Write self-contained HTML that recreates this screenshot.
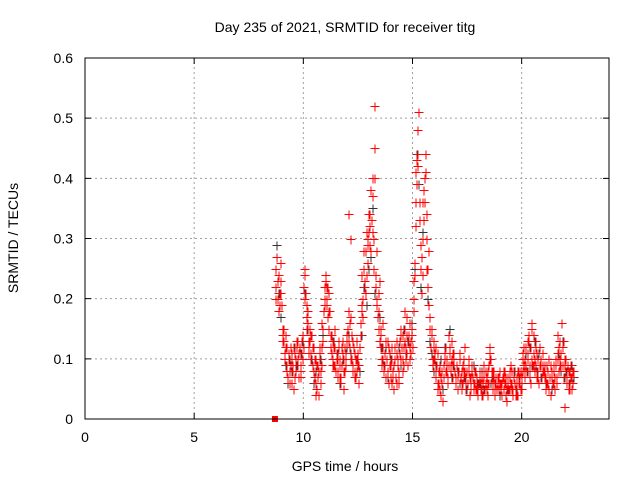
<!DOCTYPE html>
<html><head><meta charset="utf-8"><style>
body{margin:0;background:#fff}
svg{display:block;font-family:"Liberation Sans",sans-serif}
</style></head><body>
<svg id="chart" width="640" height="480" viewBox="0 0 640 480">
<rect x="0" y="0" width="640" height="480" fill="#fff"/>
<text x="345" y="32" font-size="14" text-anchor="middle">Day 235 of 2021, SRMTID for receiver titg</text>
<text x="345" y="471" font-size="14" text-anchor="middle">GPS time / hours</text>
<text transform="translate(18,238) rotate(-90)" font-size="14" text-anchor="middle">SRMTID / TECUs</text>
<g id="grid"></g>
<g id="axes"></g>
<g id="black"></g>
<g id="red"></g>
<rect x="85" y="58" width="524" height="361" fill="none" stroke="#000" stroke-width="1"/>
</svg>
<script>
const xTicks=[0,5,10,15,20];
const yTicks=[0,0.1,0.2,0.3,0.4,0.5,0.6];
const yTickLabels=["0","0.1","0.2","0.3","0.4","0.5","0.6"];
const red1Start=8.70, red1Step=0.05;
const red1Values=[0.22,0.27,0.20,0.24,0.19,0.21,
0.15,0.13,0.11,0.14,0.09,0.07,0.10,0.08,0.12,0.06,0.09,0.11,0.08,0.13,0.10,0.07,0.12,0.09,0.11,0.14,
0.22,0.25,0.19,0.16,0.13,0.15,0.11,0.14,0.09,0.12,0.07,0.10,0.05,0.08,0.11,0.06,0.09,0.13,0.18,0.22,
0.24,0.20,0.17,0.21,0.14,0.11,0.13,0.09,0.12,0.08,0.10,0.07,0.13,0.09,0.06,0.11,0.08,0.12,0.10,0.14,
0.15,0.34,0.12,0.17,0.10,0.08,0.11,0.07,0.13,0.09,0.06,0.12,0.16,0.24,0.20,0.28,0.22,0.31,0.26,0.34,
0.29,0.38,0.33,0.40,0.25,0.52,0.22,0.19,0.15,0.23,0.12,0.09,0.16,0.08,0.11,0.07,0.10,0.13,0.06,0.09,
0.12,0.08,0.05,0.10,0.07,0.13,0.09,0.06,0.11,0.15,0.08,0.12,0.18,0.10,0.14,0.09,0.13,0.16,0.11,0.15,
0.20,0.26,0.36,0.43,0.48,0.51,0.33,0.25,0.21,0.30,0.38,0.44,0.34,0.22,0.28,0.17,0.12,0.15,0.09,0.13,
0.10,0.07,0.11,0.06,0.09,0.04,0.08,0.03,0.07,0.10,0.12,0.08,0.06,0.11,0.09,0.13,0.07,0.10,0.08,0.06,
0.09,0.05,0.08,0.11,0.06,0.09,0.07,0.12,0.05,0.08,0.06,0.10,0.04,0.07,0.09,0.06,0.08,0.05,0.07,0.04,
0.06,0.08,0.05,0.07,0.04,0.09,0.06,0.05,0.08,0.06,0.12,0.10,0.07,0.05,0.08,0.04,0.06,0.07,0.05,0.08,
0.06,0.04,0.07,0.05,0.08,0.06,0.03,0.07,0.05,0.09,0.06,0.04,0.08,0.06,0.05,0.07,0.04,0.08,0.06,0.05,
0.11,0.09,0.07,0.12,0.08,0.10,0.14,0.09,0.06,0.16,0.11,0.08,0.13,0.07,0.10,0.06,0.12,0.09,0.07,0.11,
0.08,0.05,0.09,0.06,0.10,0.07,0.04,0.08,0.06,0.09,0.05,0.07,0.11,0.08,0.13,0.09,0.16,0.12,0.07,0.02,
0.10,0.06,0.08,0.05,0.09,0.07,0.06,0.08];
const red2Start=8.725, red2Step=0.1;
const red2Values=[0.25,0.18,0.23,0.14,0.10,0.12,0.08,0.11,0.05,0.09,0.13,0.07,0.10,
0.20,0.17,0.12,0.14,0.08,0.04,0.09,0.12,0.16,0.19,
0.22,0.18,0.12,0.09,0.15,0.10,0.07,0.12,0.05,0.09,
0.18,0.30,0.13,0.08,0.10,0.06,0.18,0.25,0.21,0.30,
0.34,0.31,0.45,0.28,0.18,0.14,0.10,0.13,0.08,0.11,
0.06,0.09,0.11,0.07,0.14,0.10,0.13,0.17,0.12,0.14,
0.23,0.41,0.44,0.29,0.36,0.40,0.25,0.19,0.14,0.10,
0.12,0.05,0.08,0.06,0.11,0.09,0.14,0.08,0.11,0.07,
0.07,0.10,0.05,0.08,0.06,0.09,0.05,0.07,0.06,0.05,
0.07,0.05,0.08,0.06,0.04,0.11,0.08,0.06,0.05,0.07,
0.05,0.07,0.04,0.06,0.08,0.05,0.07,0.04,0.06,0.08,
0.10,0.08,0.13,0.07,0.15,0.09,0.12,0.07,0.10,0.08,
0.07,0.09,0.05,0.08,0.06,0.10,0.14,0.09,0.12,0.09,
0.07,0.05,0.09,0.06];
const red3Start=8.725, red3Step=0.05;
const red3Values=[0.20,0.23,0.18,0.21,0.26,0.19,
0.13,0.15,0.10,0.12,0.08,0.11,0.06,0.09,0.10,0.08,0.12,0.07,0.10,0.12,0.09,0.11,0.08,0.13,0.10,0.12,
0.24,0.21,0.15,0.18,0.11,0.13,0.10,0.12,0.08,0.10,0.06,0.09,0.07,0.04,0.10,0.08,0.12,0.15,0.20,0.23,
0.19,0.22,0.15,0.18,0.12,0.14,0.10,0.12,0.09,0.11,0.08,0.12,0.10,0.07,0.09,0.13,0.10,0.08,0.11,0.13,
0.13,0.16,0.10,0.14,0.09,0.12,0.07,0.10,0.08,0.11,0.09,0.14,0.19,0.17,0.25,0.23,0.28,0.24,0.29,0.31,
0.32,0.28,0.37,0.30,0.40,0.24,0.20,0.17,0.21,0.13,0.15,0.10,0.12,0.09,0.07,0.10,0.08,0.12,0.09,0.07,
0.10,0.07,0.09,0.12,0.06,0.10,0.08,0.13,0.10,0.12,0.14,0.09,0.15,0.12,0.11,0.14,0.10,0.13,0.15,0.12,
0.18,0.24,0.32,0.39,0.42,0.36,0.29,0.27,0.24,0.33,0.36,0.41,0.30,0.25,0.19,0.15,0.14,0.10,0.12,0.11,
0.08,0.09,0.06,0.08,0.05,0.07,0.06,0.09,0.11,0.08,0.10,0.07,0.09,0.12,0.08,0.10,0.09,0.11,0.07,0.09,
0.07,0.08,0.10,0.07,0.08,0.06,0.10,0.08,0.07,0.06,0.08,0.07,0.05,0.08,0.07,0.05,0.06,0.08,0.06,0.05,
0.07,0.06,0.04,0.06,0.07,0.05,0.08,0.07,0.06,0.09,0.10,0.08,0.06,0.07,0.05,0.07,0.05,0.06,0.07,0.06,
0.05,0.06,0.08,0.06,0.07,0.05,0.06,0.05,0.07,0.06,0.08,0.05,0.07,0.04,0.06,0.08,0.06,0.07,0.05,0.07,
0.08,0.12,0.10,0.09,0.11,0.13,0.08,0.12,0.10,0.09,0.14,0.10,0.09,0.11,0.08,0.09,0.10,0.07,0.09,0.08,
0.09,0.07,0.06,0.08,0.05,0.09,0.07,0.06,0.08,0.07,0.09,0.06,0.10,0.12,0.10,0.11,0.09,0.13,0.10,0.08,
0.07,0.09,0.06,0.08,0.07,0.05,0.08];
const blackStart=8.75, blackStep=0.1;
const blackValues=[0.29,0.21,0.17,0.13,0.09,0.06,0.10,0.08,0.12,0.09,0.07,0.11,0.13,
0.21,0.15,0.13,0.10,0.06,0.08,0.04,0.10,0.14,0.20,
0.19,0.15,0.11,0.13,0.08,0.11,0.06,0.10,0.08,0.12,
0.14,0.11,0.09,0.07,0.10,0.08,0.14,0.22,0.19,0.25,
0.27,0.35,0.21,0.20,0.17,0.12,0.09,0.12,0.07,0.10,
0.08,0.10,0.06,0.12,0.09,0.15,0.11,0.13,0.10,0.16,
0.25,0.44,0.39,0.22,0.31,0.44,0.20,0.13,0.11,0.08,
0.09,0.06,0.10,0.05,0.12,0.08,0.15,0.07,0.09,0.06,
0.08,0.06,0.09,0.07,0.05,0.08,0.06,0.09,0.05,0.06,
0.06,0.08,0.05,0.07,0.09,0.06,0.07,0.05,0.06,0.04,
0.06,0.05,0.07,0.05,0.06,0.04,0.08,0.05,0.07,0.06,
0.09,0.11,0.08,0.12,0.09,0.13,0.08,0.11,0.07,0.09,
0.06,0.08,0.07,0.05,0.09,0.07,0.11,0.08,0.13,0.07,
0.08,0.06,0.09,0.07];
const markerX=[8.7], markerY=[0];

const NS="http://www.w3.org/2000/svg";
const X0=85,X1=609,Y0=419,Y1=58,XMAX=24,YMAX=0.6;
function xs(v){return X0+(X1-X0)*v/XMAX;}
function ys(v){return Y0-(Y0-Y1)*v/YMAX;}
function mk(tag,attrs,parent){const e=document.createElementNS(NS,tag);for(const k in attrs)e.setAttribute(k,attrs[k]);parent.appendChild(e);return e;}
const grid=document.getElementById('grid'),axes=document.getElementById('axes');
xTicks.forEach(t=>{
  const x=xs(t);
  if(t>0){const g=mk('line',{x1:x,y1:Y0,x2:x,y2:Y1,stroke:'#a0a0a0','stroke-dasharray':'2,3'},grid);
  
  }
  const a=mk('path',{d:`M${x},${Y0}v-6M${x},${Y1}v6`,stroke:'#000'},axes);
  
  
  const l=mk('text',{x:x,y:Y0+23,'font-size':14,'text-anchor':'middle'},axes);l.textContent=t;
  
  
});
yTicks.forEach((t,i)=>{
  const y=ys(t);
  if(t>0&&t<YMAX){const g=mk('line',{x1:X0,y1:y,x2:X1,y2:y,stroke:'#a0a0a0','stroke-dasharray':'2,3'},grid);
  
  }
  const a=mk('path',{d:`M${X0},${y}h6M${X1},${y}h-6`,stroke:'#000'},axes);
  
  
  const l=mk('text',{x:X0-12,y:y+5,'font-size':14,'text-anchor':'end'},axes);l.textContent=yTickLabels[i];
  
  
});
function plus(g,t,v,color,name){
  const x=Math.round(xs(t))+0.5,y=Math.round(ys(v))+0.5;
  const p=mk('path',{d:`M${x-4},${y}h9M${x+0.5},${y-4}v9`,stroke:color,'stroke-width':1},g);
  
  
}
const bg=document.getElementById('black'),rg=document.getElementById('red');
blackValues.forEach((v,i)=>plus(bg,blackStart+i*blackStep,v,'#333','black-point'));
red1Values.forEach((v,i)=>plus(rg,red1Start+i*red1Step,v,'#ff0000','red-point'));
red2Values.forEach((v,i)=>plus(rg,red2Start+i*red2Step,v,'#ff0000','red-point'));
red3Values.forEach((v,i)=>plus(rg,red3Start+i*red3Step,v,'#ff0000','red-point'));
markerX.forEach((t,i)=>{
  const s=mk('rect',{x:xs(t)-3,y:ys(markerY[i])-3,width:6,height:6,fill:'#ff0000'},rg);
  
  
});
</script>
</body></html>
